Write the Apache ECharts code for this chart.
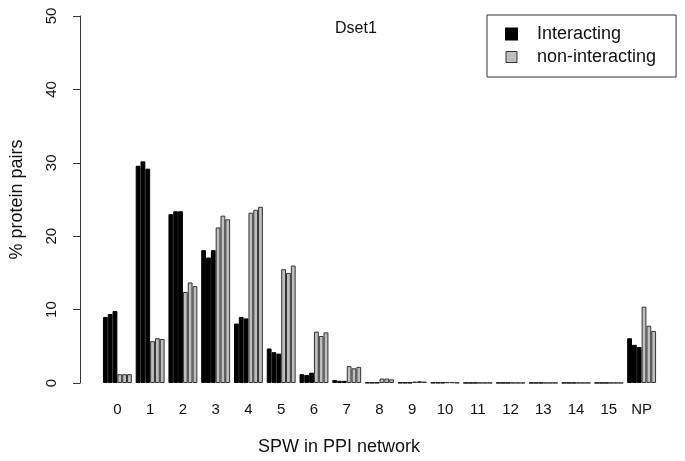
<!DOCTYPE html>
<html>
<head>
<meta charset="utf-8">
<script src="https://cdn.jsdelivr.net/npm/echarts@6/dist/echarts.min.js"></script>
<style>
  html, body { margin: 0; padding: 0; background: #fff; }
  #chart { width: 685px; height: 461px; }
</style>
</head>
<body>
<div id="chart"></div>
<script>
// SPW categories
const categories = ['0', '1', '2', '3', '4', '5', '6', '7', '8', '9', '10', '11', '12', '13', '14', '15', 'NP'];

// three replicates per class
const interacting1 = [9.0, 29.6, 23.0, 18.1, 8.1, 4.7, 1.2, 0.4, 0.05, 0.05, 0.05, 0.02, 0.02, 0.02, 0.02, 0.02, 6.1];
const interacting2 = [9.4, 30.2, 23.4, 17.1, 9.0, 4.2, 1.1, 0.3, 0.05, 0.05, 0.05, 0.02, 0.02, 0.02, 0.02, 0.02, 5.2];
const interacting3 = [9.8, 29.2, 23.4, 18.1, 8.8, 4.0, 1.4, 0.3, 0.05, 0.05, 0.05, 0.02, 0.02, 0.02, 0.02, 0.02, 4.9];
const nonInteracting1 = [1.2, 5.7, 12.4, 21.2, 23.2, 15.5, 7.0, 2.3, 0.6, 0.2, 0.1, 0.02, 0.02, 0.02, 0.02, 0.02, 10.4];
const nonInteracting2 = [1.2, 6.1, 13.7, 22.8, 23.6, 15.0, 6.4, 2.0, 0.6, 0.25, 0.1, 0.02, 0.02, 0.02, 0.02, 0.02, 7.8];
const nonInteracting3 = [1.2, 6.0, 13.2, 22.3, 24.0, 16.0, 6.9, 2.2, 0.5, 0.2, 0.05, 0.02, 0.02, 0.02, 0.02, 0.02, 7.1];

const FONT = '"Liberation Sans", Arial, sans-serif';

const chart = echarts.init(document.getElementById('chart'));

const makeBar = (name, data, fill, border) => ({
  name: name,
  type: 'bar',
  data: data,
  barGap: '0%',
  barCategoryGap: '11.8%',
  itemStyle: { color: fill, borderColor: border, borderWidth: 1 },
  emphasis: { disabled: true },
  animation: false
});

chart.setOption({
  animation: false,
  textStyle: { fontFamily: FONT },
  grid: { left: 101, top: 16, width: 557, bottom: 78 },
  legend: {
    orient: 'vertical',
    left: 487,
    top: 15,
    padding: [10, 20, 11, 18],
    itemGap: 5,
    itemWidth: 11,
    itemHeight: 11,
    borderColor: '#333',
    borderWidth: 1,
    selectedMode: false,
    data: [
      { name: 'Interacting', icon: 'rect', itemStyle: { color: '#000', borderColor: '#000' } },
      { name: 'non-interacting', icon: 'rect', itemStyle: { color: '#bebebe', borderColor: '#333', borderWidth: 1 } }
    ],
    textStyle: { fontSize: 18, color: '#111', fontFamily: FONT, padding: [0, 0, 0, 15] }
  },
  graphic: [
    { type: 'text', left: 335, top: 21, style: { text: 'Dset1', fontSize: 16, fill: '#111', fontFamily: FONT } },
    { type: 'text', left: 258, top: 438, style: { text: 'SPW in PPI network', fontSize: 18, fill: '#111', fontFamily: FONT } }
  ],
  xAxis: {
    type: 'category',
    data: categories,
    axisLine: { show: false },
    axisTick: { show: false },
    axisLabel: { fontSize: 15, color: '#111', margin: 19, interval: 0 }
  },
  yAxis: {
    type: 'value',
    min: 0,
    max: 50,
    interval: 10,
    offset: 21,
    name: '% protein pairs',
    nameLocation: 'middle',
    nameGap: 54,
    nameTextStyle: { fontSize: 18, color: '#111' },
    axisLine: { show: true, lineStyle: { color: '#333', width: 1 } },
    axisTick: { show: true, length: 7, lineStyle: { color: '#333' } },
    axisLabel: { fontSize: 15, color: '#111', rotate: 90, margin: 21 },
    splitLine: { show: false }
  },
  series: [
    makeBar('Interacting', interacting1, '#000', '#000'),
    makeBar('Interacting', interacting2, '#000', '#000'),
    makeBar('Interacting', interacting3, '#000', '#000'),
    makeBar('non-interacting', nonInteracting1, '#bebebe', '#333'),
    makeBar('non-interacting', nonInteracting2, '#bebebe', '#333'),
    makeBar('non-interacting', nonInteracting3, '#bebebe', '#333')
  ]
});
</script>
</body>
</html>
